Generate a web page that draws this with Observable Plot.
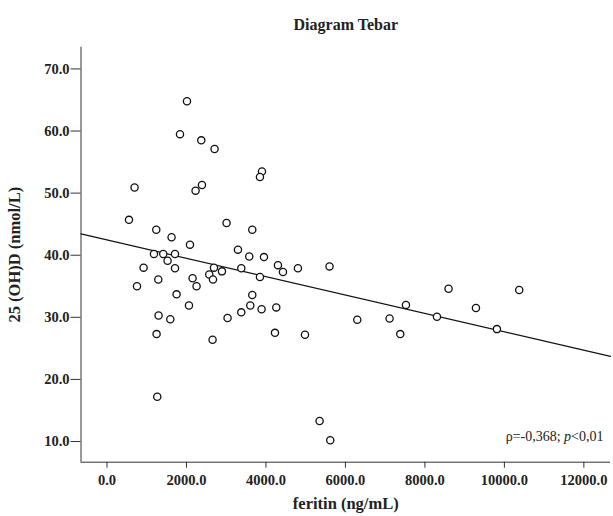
<!DOCTYPE html>
<html>
<head>
<meta charset="utf-8">
<script src="https://cdn.jsdelivr.net/npm/d3@7"></script>
<script src="https://cdn.jsdelivr.net/npm/@observablehq/plot@0.6"></script>
<style>
  html, body { margin: 0; padding: 0; background: #fff; }
</style>
</head>
<body>
<div id="chart"></div>
<script>
// ---- data ----
const feritin = [2013,1837,2373,2707,3900,3849,694,2390,2229,553,3009,1240,3656,1625,2088,3296,3580,3950,
  1182,1416,1711,1525,921,1711,2692,2893,2574,2667,3379,3849,1291,2154,2254,755,1751,3656,2063,3606,3379,3890,
  1298,1593,3034,1248,2657,4302,4805,5600,4428,4260,6298,7111,4227,4982,7380,1265,5350,5618,8595,10373,7523,9284,8303,9812];
const vitD = [64.8,59.5,58.5,57.1,53.5,52.6,50.9,51.3,50.4,45.7,45.2,44.1,44.1,42.9,41.7,40.9,39.8,39.7,
  40.2,40.2,40.2,39.1,38.0,37.9,38.0,37.4,36.9,36.1,37.9,36.5,36.1,36.3,35.0,35.0,33.7,33.6,31.9,31.9,30.8,31.3,
  30.3,29.7,29.9,27.3,26.4,38.4,37.9,38.2,37.3,31.6,29.6,29.8,27.5,27.2,27.3,17.2,13.3,10.2,34.6,34.4,32.0,31.5,30.1,28.1];
const fitIntercept = 42.46;
const fitSlope = -0.00148;
const xDomain = [-654, 12670];
const yDomain = [6.67, 73.5];
const xTicks = [0, 2000, 4000, 6000, 8000, 10000, 12000];
const yTicks = [10, 20, 30, 40, 50, 60, 70];
const titleText = ["Diagram Tebar"];
const xLabel = ["feritin (ng/mL)"];
const yLabel = ["25 (OH)D (nmol/L)"];
const annotation = ["ρ=-0,368; p<0,01"];

const points = feritin.map((f, i) => ({f, d: vitD[i]}));
const fitLine = xDomain.map(x => ({x, y: fitIntercept + fitSlope * x}));
const fmt = d3.format(".1f");
const FONT = "'Liberation Serif', 'DejaVu Serif', serif";

const chart = Plot.plot({
  width: 613,
  height: 516,
  marginLeft: 80.5,
  marginRight: 3,
  marginTop: 46.7,
  marginBottom: 54.3,
  style: {fontFamily: FONT, fontSize: "15px", fontWeight: "bold", color: "#222", background: "#fff"},
  x: {domain: xDomain, label: null},
  y: {domain: yDomain, label: null},
  marks: [
    Plot.axisX({ticks: xTicks, tickFormat: fmt, tickSize: 6, tickPadding: 7, label: null, stroke: "#333", fontSize: 14.5, fontWeight: "bold", fill: "#222"}),
    Plot.axisY({ticks: yTicks, tickFormat: fmt, tickSize: 10, tickPadding: 1.5, label: null, stroke: "#333", fontSize: 14.5, fontWeight: "bold", fill: "#222"}),
    Plot.ruleX([xDomain[0]], {stroke: "#333", strokeWidth: 1}),
    Plot.ruleY([yDomain[0]], {stroke: "#333", strokeWidth: 1}),
    Plot.line(fitLine, {x: "x", y: "y", stroke: "#111", strokeWidth: 1.2}),
    Plot.dot(points, {x: "f", y: "d", r: 3.6, stroke: "#111", strokeWidth: 1.3, fill: "white"}),
    Plot.text(titleText, {text: d => d, frameAnchor: "top", dy: -22, lineAnchor: "middle", fontSize: 16, fontWeight: "bold", fill: "#222"}),
    Plot.text(xLabel, {text: d => d, frameAnchor: "bottom", dy: 42, lineAnchor: "middle", fontSize: 16.5, fontWeight: "bold", fill: "#222"}),
    Plot.text(yLabel, {text: d => d, frameAnchor: "left", dx: -66, rotate: -90, textAnchor: "middle", lineAnchor: "middle", fontSize: 16.5, fontWeight: "bold", fill: "#222"}),
    Plot.text(annotation, {text: d => d, frameAnchor: "bottom-right", dx: -7, dy: -26, textAnchor: "end", lineAnchor: "middle", fontSize: 14, fontWeight: "normal", fill: "#222", className: "annot"})
  ]
});
document.getElementById("chart").appendChild(chart);

// italicise the "p" in the annotation while keeping it real text
d3.select(chart).selectAll(".annot text").each(function() {
  const t = d3.select(this);
  const s = t.text();
  const idx = s.indexOf("p<");
  if (idx < 0) return;
  t.text(null);
  t.append("tspan").text(s.slice(0, idx));
  t.append("tspan").attr("font-style", "italic").text("p");
  t.append("tspan").text(s.slice(idx + 1));
});
</script>
</body>
</html>
